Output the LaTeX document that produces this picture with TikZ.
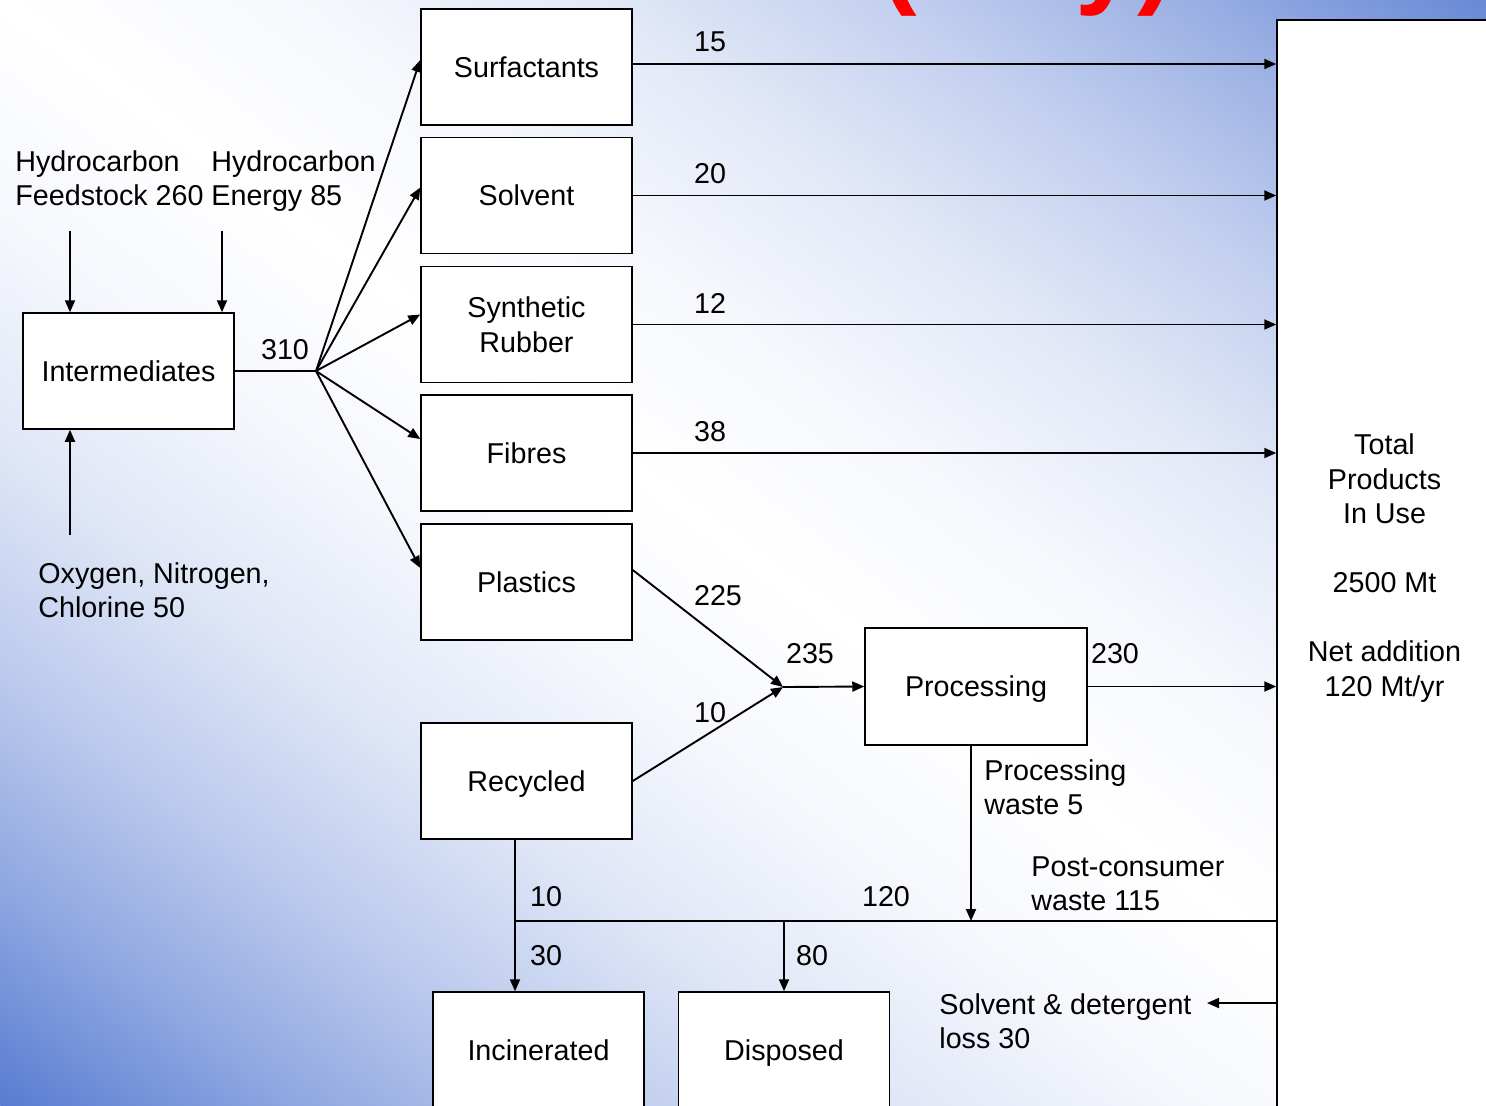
\documentclass[tikz,border=0pt]{standalone}
\usepackage{fontspec}
\setmainfont{Liberation Sans}
\usetikzlibrary{arrows.meta,calc}
\definecolor{bgBL}{RGB}{88,124,210}
\definecolor{bgTR}{RGB}{104,136,214}
\colorlet{bl1}{bgBL!6!white}
\colorlet{bl2}{bgBL!19!white}
\colorlet{bl3}{bgBL!40!white}
\colorlet{bl4}{bgBL!67!white}
\colorlet{tr1}{bgTR!6!white}
\colorlet{tr2}{bgTR!19!white}
\colorlet{tr3}{bgTR!40!white}
\colorlet{tr4}{bgTR!67!white}
\pgfdeclareverticalshading{bgshade}{100bp}{color(0bp)=(bgBL); color(25bp)=(bgBL); color(30bp)=(bl4); color(35bp)=(bl3); color(40bp)=(bl2); color(45bp)=(bl1); color(50bp)=(white); color(55bp)=(tr1); color(60bp)=(tr2); color(65bp)=(tr3); color(70bp)=(tr4); color(75bp)=(bgTR); color(100bp)=(bgTR)}
\begin{document}
\begin{tikzpicture}[x=0.5pt,y=-0.5pt,
  every node/.style={font=\fontsize{14.35pt}{17.25pt}\selectfont, inner sep=0pt},
  box/.style={draw, fill=white, line width=0.75pt, minimum width=105.5pt, minimum height=58pt, align=center, text depth=0pt},
  arr/.style={line width=0.95pt, -{Triangle[length=6pt,width=5pt]}},
  ln/.style={line width=0.95pt},
  txt/.style={anchor=north west, align=left}]
\useasboundingbox (0,0) rectangle (1486,1105);
% background
\begin{scope}
  \clip (0,0) rectangle (1486,1105);
  \begin{scope}[transform canvas={shift={(371.5pt,-276.25pt)},rotate=-36.6}]
    \shade[shading=bgshade] (-520pt,-443.5pt) rectangle (520pt,443.5pt);
  \end{scope}
  \node[anchor=base west, text=red, font=\fontsize{55pt}{60pt}\selectfont\bfseries] (title) at (880,-7) {(Mt/y)};
\end{scope}
% boxes
\node[box] (surf) at (526.5,67) {Surfactants};
\node[box] (solv) at (526.5,195.5) {Solvent};
\node[box] (rub) at (526.5,324.5) {Synthetic\\Rubber};
\node[box] (fib) at (526.5,453) {Fibres};
\node[box] (plas) at (526.5,582) {Plastics};
\node[box] (rec) at (526.5,781) {Recycled};
\node[box] (inter) at (128.5,371) {Intermediates};
\node[box, minimum width=111pt, minimum height=58.5pt] (proc) at (976,686.5) {Processing};
\node[box] (inc) at (538.5,1050) {Incinerated};
\node[box] (disp) at (784,1050) {Disposed};
\node[box, minimum width=107.5pt, minimum height=545pt] (total) at (1384.5,565) {Total\\Products\\In Use\\[17.25pt]2500 Mt\\[17.25pt]Net addition\\120 Mt/yr};
% free texts
\node[txt] (feed) at (15,150) {Hydrocarbon\\Feedstock 260};
\node[txt] (energy) at (211,150) {Hydrocarbon\\Energy 85};
\node[txt] (oxy) at (38,562) {Oxygen, Nitrogen,\\Chlorine 50};
\node[txt] (pwaste) at (984,759) {Processing\\waste 5};
\node[txt] (pcw) at (1031,856) {Post-consumer\\waste 115};
\node[txt] (sdl) at (939,993) {Solvent \& detergent\\loss 30};
% numeric labels
\node (l310) at (285,350) {310};
\node (l15) at (710,42) {15};
\node (l20) at (710,174) {20};
\node (l12) at (710,303) {12};
\node (l38) at (710,432) {38};
\node (l225) at (718,596) {225};
\node (l235) at (810,654) {235};
\node (l10a) at (710,713) {10};
\node (l230) at (1115,654) {230};
\node (l10b) at (546,897) {10};
\node (l30) at (546,956) {30};
\node (l80) at (812,956) {80};
\node (l120) at (886,897) {120};
% coordinates
\coordinate (j1) at (316,371);
\coordinate (j2) at (783,687);
\coordinate (fs) at (70,231);
\coordinate (en) at (222,231);
\coordinate (ox) at (70,535);
\coordinate (wl) at (515,921);
\coordinate (pw) at (971,921);
\coordinate (sd) at (1207,1003);
% connectors
\draw[arr] (fs) -- (fs |- inter.north);
\draw[arr] (en) -- (en |- inter.north);
\draw[arr] (ox) -- (ox |- inter.south);
\draw[ln] (inter.east) -- (j1);
\draw[arr] (j1) -- ($(surf.west)+(0,-7)$);
\draw[arr] (j1) -- ($(solv.west)+(0,-8)$);
\draw[arr] (j1) -- ($(rub.west)+(0,-10)$);
\draw[arr] (j1) -- ($(fib.west)+(0,-14)$);
\draw[arr] (j1) -- ($(plas.west)+(0,-14)$);
\draw[arr] ($(surf.east)+(0,-3)$) -- ($(surf.east -| total.west)+(0,-3)$);
\draw[arr] (solv.east) -- (solv.east -| total.west);
\draw[arr] (rub.east) -- (rub.east -| total.west);
\draw[arr] (fib.east) -- (fib.east -| total.west);
\draw[arr] ($(plas.east)+(0,-12)$) -- (j2);
\draw[arr] (rec.east) -- (j2);
\draw[arr] (j2) -- (proc.west);
\draw[arr] (proc.east) -- (proc.east -| total.west);
\draw[arr] (pw |- proc.south) -- (pw);
\draw[ln] (wl) -- (wl -| total.west);
\draw[arr] (wl |- rec.south) -- (wl |- inc.north);
\draw[arr] (disp.north |- wl) -- (disp.north);
\draw[arr] (sd -| total.west) -- (sd);
\end{tikzpicture}
\end{document}
